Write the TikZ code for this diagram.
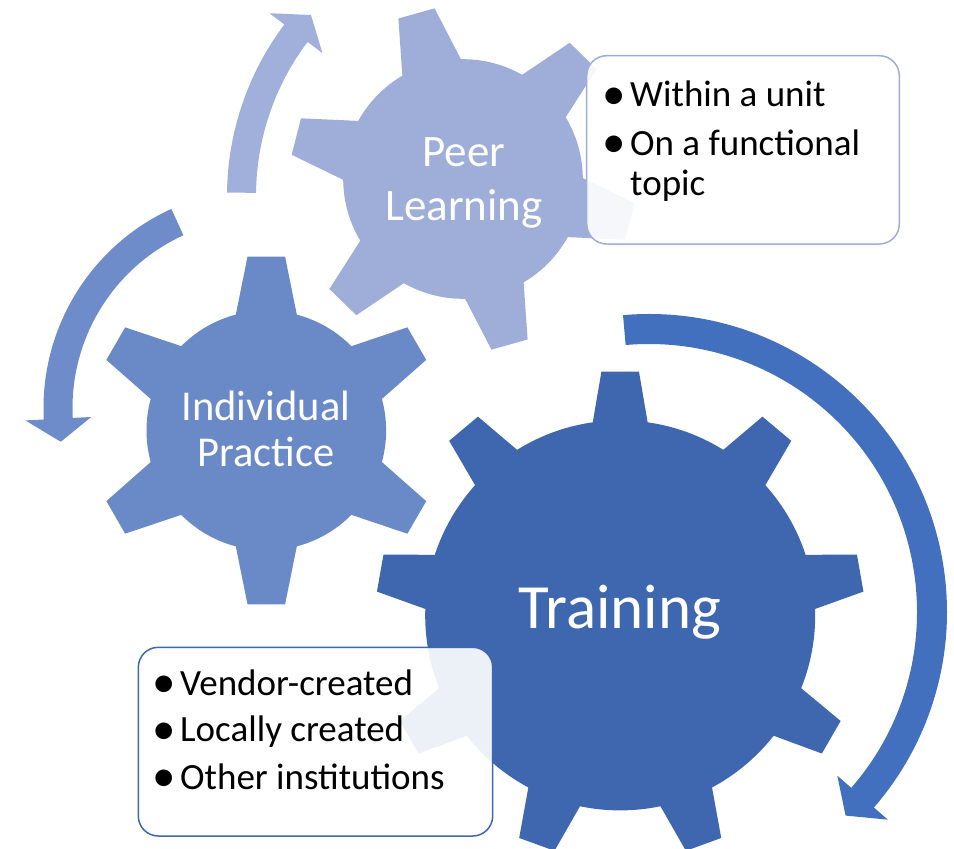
\documentclass[tikz,border=0pt]{standalone}
\usepackage{fontspec}
\setmainfont{Carlito}
\definecolor{gearBig}{RGB}{63,103,175}
\definecolor{arrowBig}{RGB}{67,112,190}
\definecolor{gearMid}{RGB}{106,137,199}
\definecolor{arrowMid}{RGB}{110,140,201}
\definecolor{gearSmall}{RGB}{158,174,216}
\definecolor{arrowSmall}{RGB}{160,176,218}
\begin{document}
\begin{tikzpicture}[x=1pt,y=-1pt,
  gearlabel/.style={anchor=base,inner sep=0pt,text=white},
  btext/.style={anchor=base west,inner sep=0pt,text=black,font=\fontsize{37}{37}\selectfont},
  bul/.style={anchor=base,inner sep=0pt,text=black,font=\fontsize{47}{47}\selectfont},
  callout/.style={draw,line width=1.5pt,rounded corners=20pt,fill=white,fill opacity=0.9,inner sep=0pt}]
\useasboundingbox (0,0) rectangle (954,849);

% ---- arrows
\begin{scope}[shift={(649,612)},yscale=-1]
\fill[arrowBig] (95:298) arc[start angle=95,end angle=-41,radius=298] -- (-41:316.5) -- (-46:283) -- (-41:249.5) -- (-41:268) arc[start angle=-41,end angle=95,radius=268] -- cycle;
\end{scope}
\begin{scope}[shift={(512,196)},yscale=-1]
\fill[arrowSmall] (179.3:285) arc[start angle=179.3,end angle=143,radius=285] -- (143:303.7) -- (138:270.5) -- (143:237.3) -- (143:256) arc[start angle=143,end angle=179.3,radius=256] -- cycle;
\end{scope}
\begin{scope}[shift={(262.5,408)},yscale=-1]
\fill[arrowMid] (114.6:219) arc[start angle=114.6,end angle=183,radius=219] -- (183:237.5) -- (189.5:204.5) -- (183:171.5) -- (183:190) arc[start angle=183,end angle=114.6,radius=190] -- cycle;
\end{scope}

% ---- gears
\begin{scope}[shift={(620.2,615.4)}]
\fill[gearBig] (0,0) circle (195);
\foreach \a in {10,50,90,130,170,210,250,290,330}
  \fill[gearBig,rotate=\a] (180,-29.7) -- (243.7,-18.8) -- (243.7,18.8) -- (180,29.7) -- cycle;
\end{scope}
\begin{scope}[shift={(266.3,430.5)}]
\fill[gearMid] (0,0) circle (119.8);
\foreach \a in {30,90,150,210,270,330}
  \fill[gearMid,rotate=\a] (100,-33.7) -- (173.8,-18.8) -- (173.8,18.8) -- (100,33.7) -- cycle;
\end{scope}
\begin{scope}[shift={(463,179)}]
\fill[gearSmall] (0,0) circle (119.8);
\foreach \a in {45.7,105.7,165.7,225.7,285.7,345.7}
  \fill[gearSmall,rotate=\a] (100,-33.7) -- (172,-18.8) -- (172,18.8) -- (100,33.7) -- cycle;
\end{scope}

% ---- callouts
\node[callout,draw=gearSmall,minimum width=312.6pt,minimum height=188.3pt] (boxPeer) at (743,149.85) {};
\node[callout,draw=gearBig,minimum width=354.4pt,minimum height=188.7pt] (boxTrain) at (315.5,741.65) {};

% ---- gear labels
\node[gearlabel,font=\fontsize{45}{45}\selectfont] (peerA) at (464,166.7) {Peer};
\node[gearlabel,font=\fontsize{45}{45}\selectfont] (peerB) at (464,220) {Learning};
\node[gearlabel,font=\fontsize{42.5}{42.5}\selectfont] (indA) at (266,420) {Individual};
\node[gearlabel,font=\fontsize{42.5}{42.5}\selectfont] (indB) at (266,466.7) {Practice};
\node[gearlabel,font=\fontsize{63}{63}\selectfont] (train) at (620,628.3) {Training};

% ---- callout texts
\node[bul] (pb1) at (614.5,106.7) {\raisebox{-2.5pt}{\textbullet}};
\node[btext] (pt1) at (630,106.7) {Within a unit};
\node[bul] (pb2) at (614.5,155) {\raisebox{-2.5pt}{\textbullet}};
\node[btext] (pt2) at (630,155) {On a functional};
\node[btext] (pt3) at (630,195) {topic};

\node[bul] (tb1) at (164.5,695) {\raisebox{-2.5pt}{\textbullet}};
\node[btext] (tt1) at (180,695) {Vendor-created};
\node[bul] (tb2) at (164.5,741.7) {\raisebox{-2.5pt}{\textbullet}};
\node[btext] (tt2) at (180,741.7) {Locally created};
\node[bul] (tb3) at (164.5,789) {\raisebox{-2.5pt}{\textbullet}};
\node[btext] (tt3) at (180,789) {Other institutions};
\end{tikzpicture}
\end{document}
